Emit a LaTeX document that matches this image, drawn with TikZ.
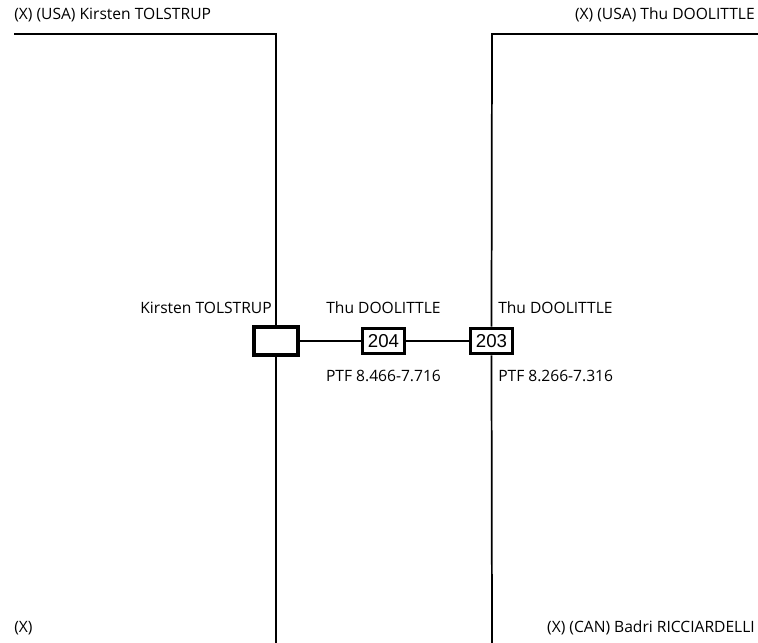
\documentclass[tikz,border=0pt]{standalone}
\usepackage{fontspec}
\setmainfont{Open Sans}
\newfontfamily\numfont{Liberation Sans}
\begin{document}
\begin{tikzpicture}[x=0.75pt,y=-0.75pt,
  lbl/.style={inner sep=0pt,font=\fontsize{11.7pt}{13pt}\selectfont},
  seed/.style={draw,line width=2.4pt,minimum width=32pt,minimum height=19pt,inner sep=0pt,font=\numfont\fontsize{14pt}{16pt}\selectfont},
  wire/.style={line width=1.3pt},
  thin/.style={line width=1pt}]
\useasboundingbox (0,0) rectangle (758,643);
% nodes
\node[seed,minimum width=33pt,minimum height=21pt] (b1) at (276,341) {};
\node[seed] (b204) at (383.5,341) {204};
\node[seed] (b203) at (491.5,341) {203};
% coordinates
\coordinate (tl) at (14,34);
\coordinate (tlc) at (276,34);
\coordinate (bl) at (276,643);
\coordinate (tr) at (758,34);
\coordinate (trc) at (492,34);
\coordinate (br) at (492,643);
% lines
\draw[wire] (tl) -- (tlc) -- (b1.north);
\draw[wire] (b1.south) -- (bl);
\draw[wire] (tr) -- (trc) -- (b203.north);
\draw[wire] (b203.south) -- (br);
\draw[thin] (b1.east) -- (b204.west);
\draw[thin] (b204.east) -- (b203.west);
% labels
\node[lbl,anchor=west] (t1) at (14,15) {(X) (USA) Kirsten TOLSTRUP};
\node[lbl,anchor=east] (t2) at (755,15) {(X) (USA) Thu DOOLITTLE};
\node[lbl,anchor=east] (t3) at (272,308) {Kirsten TOLSTRUP};
\node[lbl] (t4) at (383.5,308) {Thu DOOLITTLE};
\node[lbl,anchor=west] (t5) at (498,308) {Thu DOOLITTLE};
\node[lbl] (t6) at (383.5,376) {PTF 8.466-7.716};
\node[lbl,anchor=west] (t7) at (498,376) {PTF 8.266-7.316};
\node[lbl,anchor=west] (t8) at (14,628) {(X)};
\node[lbl,anchor=east] (t9) at (755,628) {(X) (CAN) Badri RICCIARDELLI};
\end{tikzpicture}
\end{document}
